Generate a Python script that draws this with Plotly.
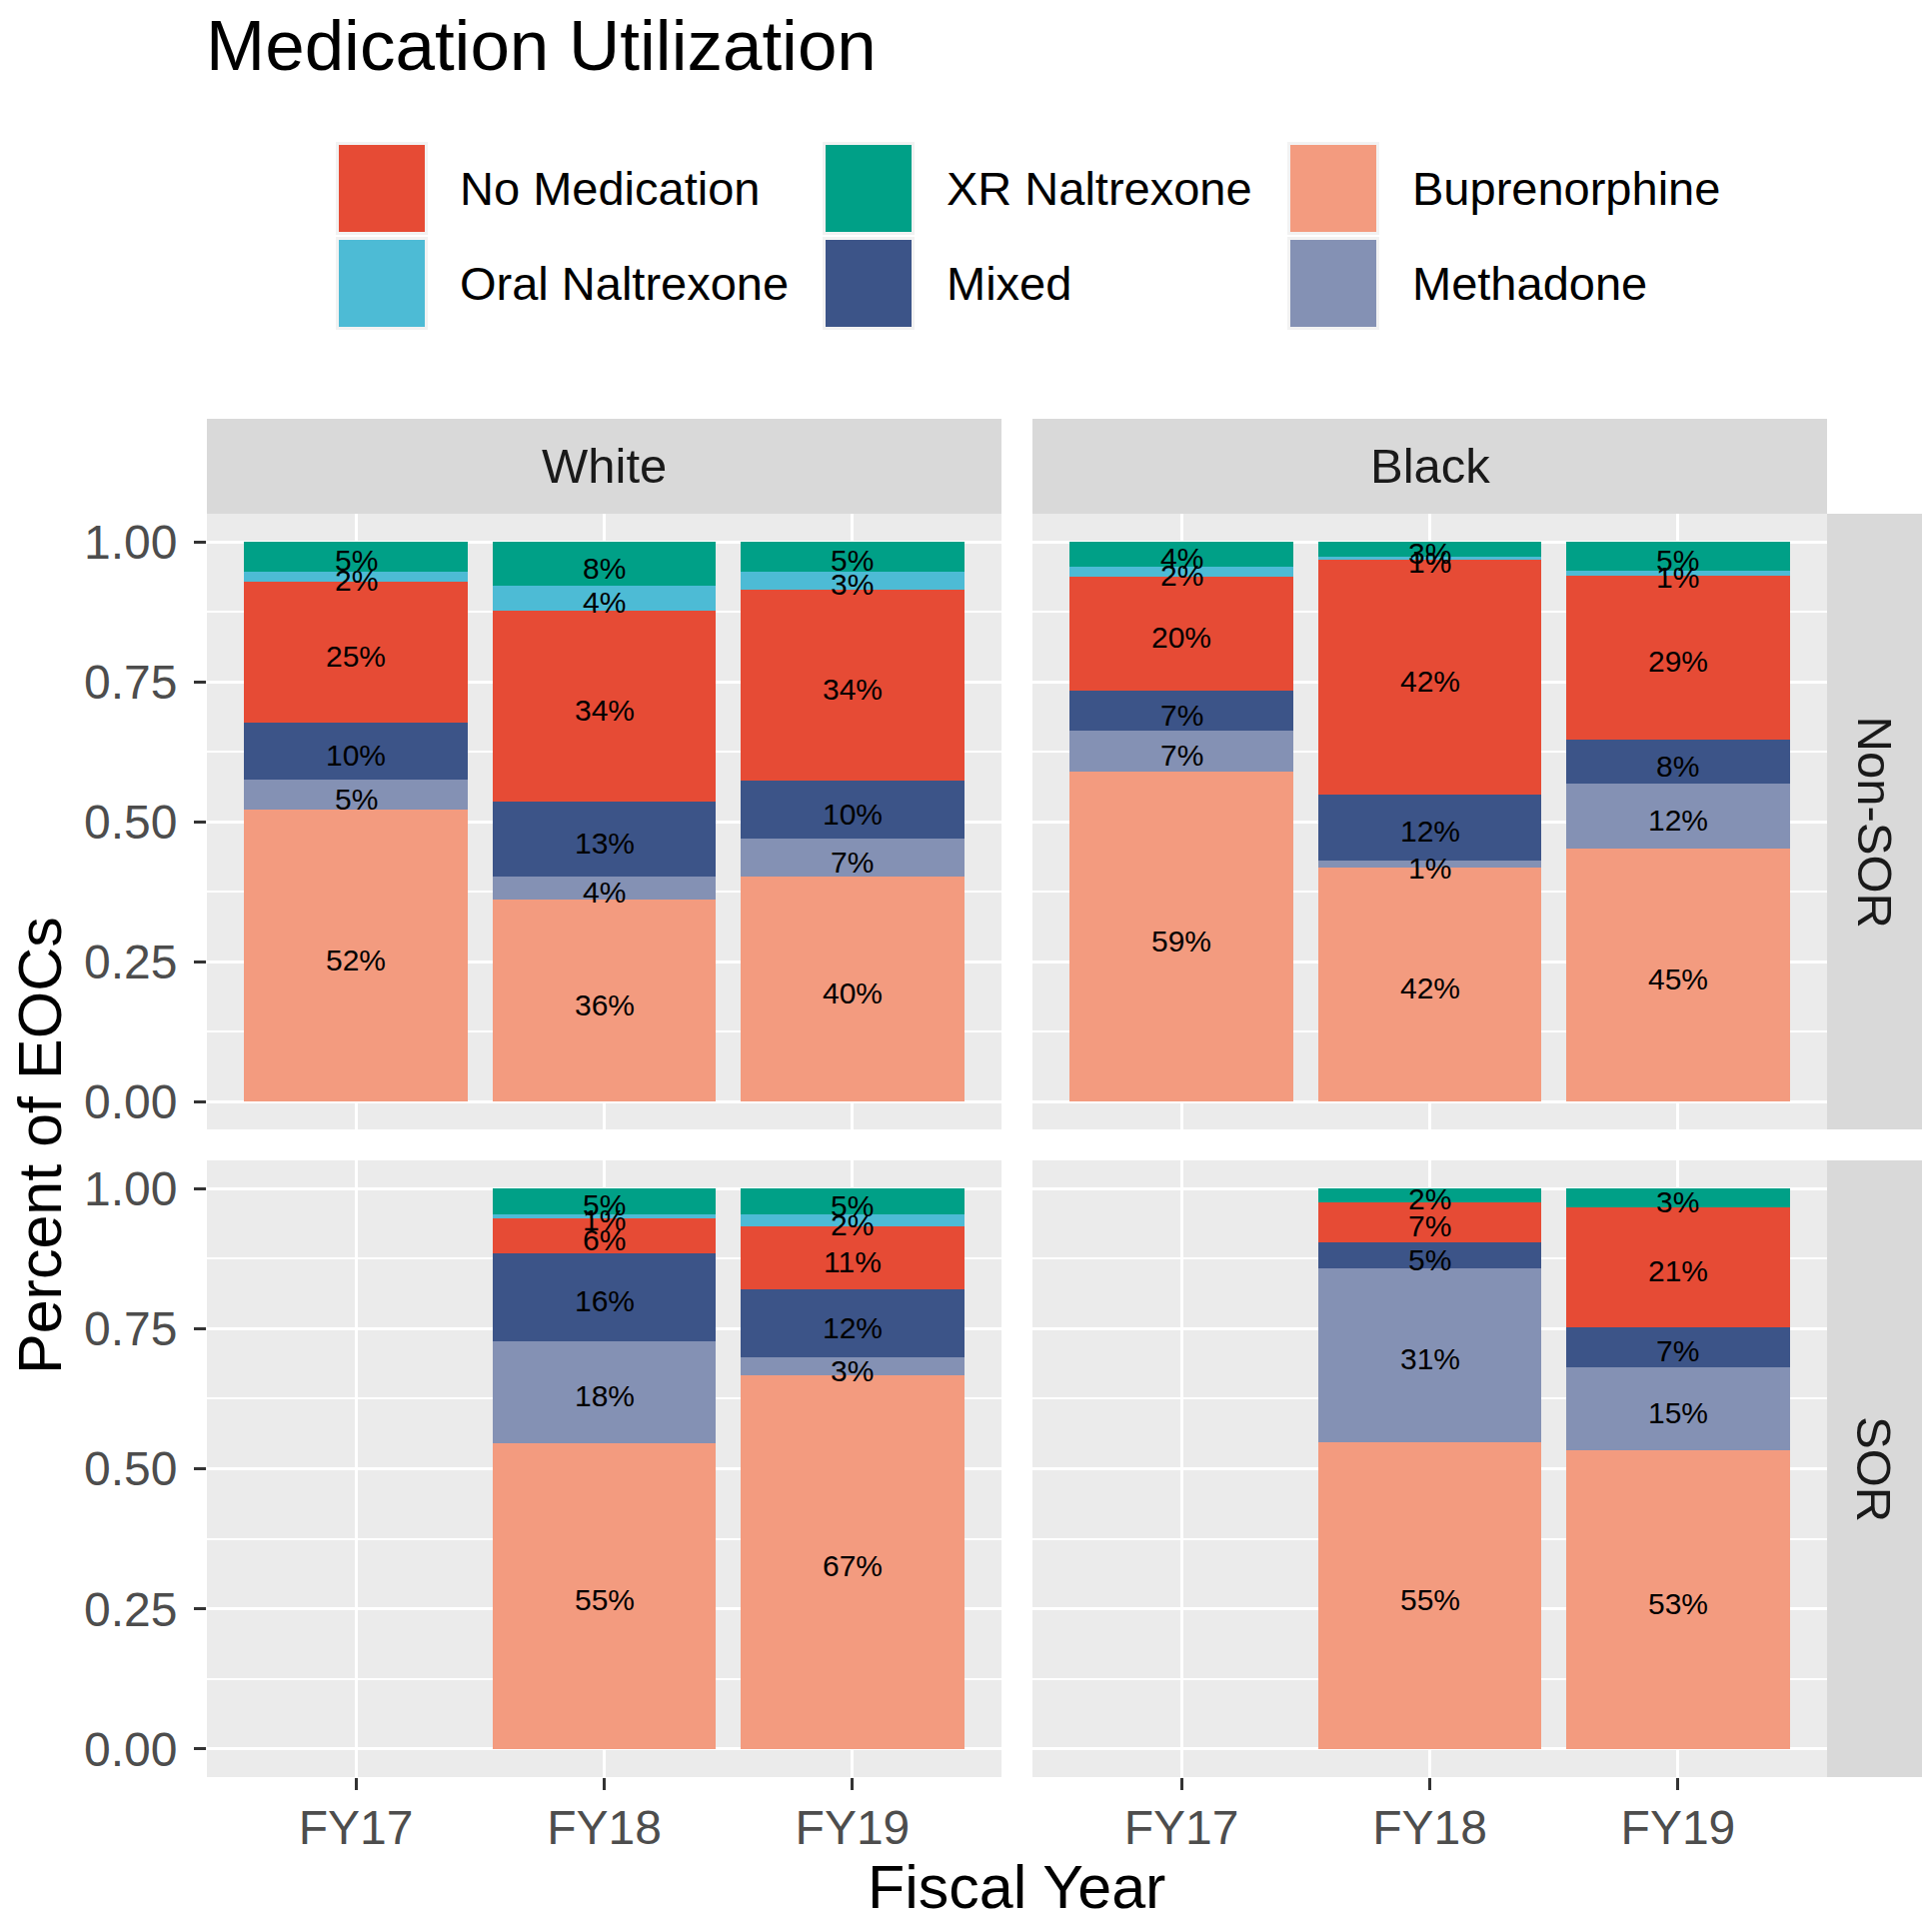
import plotly.graph_objects as go

# ---------------- data ----------------
years = ["FY17", "FY18", "FY19"]
# stacking order bottom -> top
categories = ["Buprenorphine", "Methadone", "Mixed", "No Medication", "Oral Naltrexone", "XR Naltrexone"]
colors = {
    "No Medication": "#E64B35",
    "Oral Naltrexone": "#4DBBD5",
    "XR Naltrexone": "#00A087",
    "Mixed": "#3C5488",
    "Buprenorphine": "#F39B7F",
    "Methadone": "#8491B4",
}
legend_order = [["No Medication", "Oral Naltrexone"], ["XR Naltrexone", "Mixed"], ["Buprenorphine", "Methadone"]]

# share of EOCs per fiscal year (FY17, FY18, FY19)
white_nonsor = {
    "Buprenorphine": [0.521, 0.360, 0.402],
    "Methadone": [0.054, 0.042, 0.067],
    "Mixed": [0.101, 0.134, 0.104],
    "No Medication": [0.253, 0.341, 0.341],
    "Oral Naltrexone": [0.018, 0.044, 0.033],
    "XR Naltrexone": [0.053, 0.079, 0.053],
}
black_nonsor = {
    "Buprenorphine": [0.589, 0.418, 0.451],
    "Methadone": [0.073, 0.013, 0.116],
    "Mixed": [0.072, 0.118, 0.079],
    "No Medication": [0.204, 0.418, 0.294],
    "Oral Naltrexone": [0.018, 0.006, 0.009],
    "XR Naltrexone": [0.044, 0.027, 0.051],
}
white_sor = {
    "Buprenorphine": [None, 0.546, 0.667],
    "Methadone": [None, 0.182, 0.031],
    "Mixed": [None, 0.156, 0.122],
    "No Medication": [None, 0.063, 0.113],
    "Oral Naltrexone": [None, 0.007, 0.020],
    "XR Naltrexone": [None, 0.046, 0.047],
}
black_sor = {
    "Buprenorphine": [None, 0.548, 0.533],
    "Methadone": [None, 0.309, 0.148],
    "Mixed": [None, 0.046, 0.072],
    "No Medication": [None, 0.073, 0.214],
    "Oral Naltrexone": [None, None, None],
    "XR Naltrexone": [None, 0.024, 0.033],
}

col_labels = ["White", "Black"]
row_labels = ["Non-SOR", "SOR"]
y_ticks = [0, 0.25, 0.5, 0.75, 1.0]
y_ticktext = ["0.00", "0.25", "0.50", "0.75", "1.00"]

# ---------------- layout geometry (page pixels) ----------------
OFF = 8  # default page body margin
W, H = 1933 - OFF, 1922 - OFF
FONT = "Liberation Sans, Arial, sans-serif"
col_px = [(207, 1002), (1033, 1828)]
row_px = [(514, 1130), (1161, 1778)]
strip_top = (419, 514)
strip_right = (1828, 1923)


def fx(p):
    return (p - OFF) / W


def fy(p):
    return 1 - (p - OFF) / H


panels = [
    (white_nonsor, 0, 0, "x", "y"),
    (black_nonsor, 0, 1, "x2", "y2"),
    (white_sor, 1, 0, "x3", "y3"),
    (black_sor, 1, 1, "x4", "y4"),
]

fig = go.Figure()
annotations = []

for data, r, c, xa, ya in panels:
    for cat in categories:
        fig.add_trace(go.Bar(
            x=years, y=data[cat], marker=dict(color=colors[cat], line=dict(width=0)),
            width=0.9, xaxis=xa, yaxis=ya, showlegend=False, name=cat,
            hoverinfo="skip",
        ))
    # labels at stack midpoints
    for i, yr in enumerate(years):
        base = 0.0
        for cat in categories:
            v = data[cat][i]
            if v is None or v == 0:
                continue
            annotations.append(dict(
                text=f"{int(round(v * 100))}%", x=yr, y=base + v / 2, xref=xa, yref=ya,
                showarrow=False, xanchor="center", yanchor="middle", yshift=-4,
                font=dict(size=30, color="black", family=FONT), borderpad=0,
            ))
            base += v

layout_axes = {}
for data, r, c, xa, ya in panels:
    xname = "xaxis" + xa[1:]
    yname = "yaxis" + ya[1:]
    bottom = r == 1
    left = c == 0
    layout_axes[xname] = dict(
        domain=[fx(col_px[c][0]), fx(col_px[c][1])],
        anchor=ya, type="category", categoryorder="array", categoryarray=years,
        range=[-0.6, 2.6], showgrid=True, gridcolor="white", gridwidth=3,
        zeroline=False, showline=False,
        ticks="outside" if bottom else "", ticklen=12, tickwidth=2.5, tickcolor="#333333",
        showticklabels=bottom, ticklabelstandoff=-4,
        tickfont=dict(size=48, color="#4D4D4D", family=FONT),
    )
    layout_axes[yname] = dict(
        domain=[fy(row_px[r][1]), fy(row_px[r][0])],
        anchor=xa, range=[-0.05, 1.05], tickvals=y_ticks, ticktext=y_ticktext,
        showgrid=True, gridcolor="white", gridwidth=3, zeroline=False, showline=False,
        minor=dict(dtick=0.125, tick0=0, showgrid=True, gridcolor="white", gridwidth=1.5, ticks=""),
        ticks="outside" if left else "", ticklen=12, tickwidth=2.5, tickcolor="#333333",
        showticklabels=left, ticklabelstandoff=7,
        tickfont=dict(size=48, color="#4D4D4D", family=FONT),
    )

shapes = []

# facet strips
for c, lab in enumerate(col_labels):
    shapes.append(dict(type="rect", xref="paper", yref="paper",
                       x0=fx(col_px[c][0]), x1=fx(col_px[c][1]),
                       y0=fy(strip_top[1]), y1=fy(strip_top[0]),
                       fillcolor="#D9D9D9", line=dict(width=0), layer="below"))
    annotations.append(dict(text=lab, xref="paper", yref="paper",
                            x=fx((col_px[c][0] + col_px[c][1]) / 2),
                            y=fy((strip_top[0] + strip_top[1]) / 2),
                            showarrow=False, xanchor="center", yanchor="middle",
                            font=dict(size=49, color="#1A1A1A", family=FONT)))
for r, lab in enumerate(row_labels):
    shapes.append(dict(type="rect", xref="paper", yref="paper",
                       x0=fx(strip_right[0]), x1=fx(strip_right[1]),
                       y0=fy(row_px[r][1]), y1=fy(row_px[r][0]),
                       fillcolor="#D9D9D9", line=dict(width=0), layer="below"))
    annotations.append(dict(text=lab, xref="paper", yref="paper",
                            x=fx((strip_right[0] + strip_right[1]) / 2),
                            y=fy((row_px[r][0] + row_px[r][1]) / 2),
                            showarrow=False, xanchor="center", yanchor="middle", textangle=90,
                            font=dict(size=49, color="#1A1A1A", family=FONT)))

# legend (manual, large keys)
key_cols = [(339, 425, 458), (826, 912, 945), (1291, 1377, 1411)]
key_rows = [(145, 232), (240, 327)]
for ci, col in enumerate(legend_order):
    for ri, cat in enumerate(col):
        kx0, kx1, lx = key_cols[ci]
        ky0, ky1 = key_rows[ri]
        shapes.append(dict(type="rect", xref="paper", yref="paper",
                           x0=fx(kx0 - 3), x1=fx(kx1 + 3), y0=fy(ky1 + 3), y1=fy(ky0 - 3),
                           fillcolor="#F2F2F2", line=dict(width=0)))
        shapes.append(dict(type="rect", xref="paper", yref="paper",
                           x0=fx(kx0), x1=fx(kx1), y0=fy(ky1), y1=fy(ky0),
                           fillcolor=colors[cat], line=dict(width=0)))
        annotations.append(dict(text=cat, xref="paper", yref="paper",
                                x=fx(lx), y=fy((ky0 + ky1) / 2),
                                showarrow=False, xanchor="left", yanchor="middle",
                                font=dict(size=47, color="black", family=FONT)))

# titles
annotations.append(dict(text="Medication Utilization", xref="paper", yref="paper",
                        x=fx(205), y=fy(46), showarrow=False, xanchor="left", yanchor="middle",
                        borderpad=0, font=dict(size=71, color="black", family=FONT)))
annotations.append(dict(text="Percent of EOCs", xref="paper", yref="paper",
                        x=fx(40), y=fy(1146), showarrow=False, xanchor="center", yanchor="middle",
                        borderpad=0, textangle=-90, font=dict(size=61, color="black", family=FONT)))
annotations.append(dict(text="Fiscal Year", xref="paper", yref="paper",
                        x=fx(1017), y=fy(1888), showarrow=False, xanchor="center", yanchor="middle",
                        borderpad=0, font=dict(size=61, color="black", family=FONT)))

fig.update_layout(
    width=W, height=H, autosize=False,
    margin=dict(l=0, r=0, t=0, b=0),
    paper_bgcolor="white", plot_bgcolor="#EBEBEB",
    barmode="stack", bargap=0.1, showlegend=False,
    font=dict(family=FONT),
    shapes=shapes, annotations=annotations,
    **layout_axes,
)

fig.write_html("out.html")
